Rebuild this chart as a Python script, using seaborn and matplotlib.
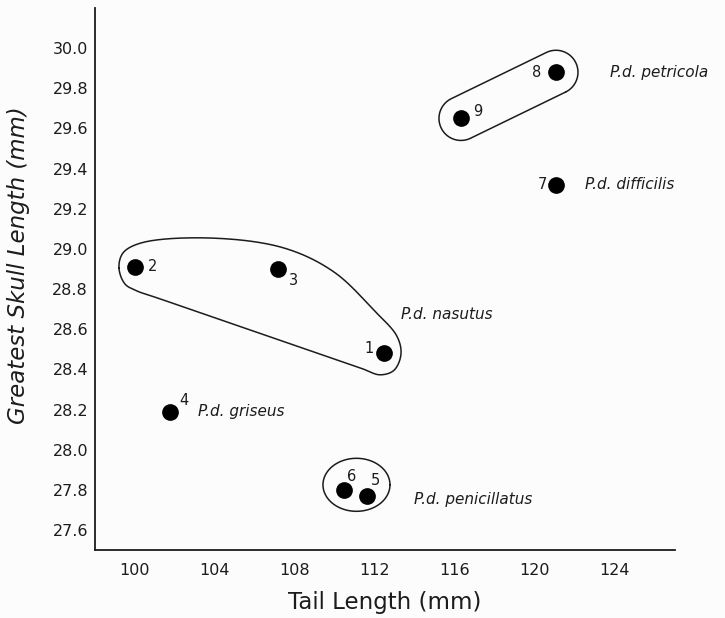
import numpy as np
import pandas as pd
import matplotlib
matplotlib.use('Agg')
import matplotlib.pyplot as plt
from matplotlib.ticker import FormatStrFormatter
import seaborn as sns

# Specimen values
specimen = [1, 2, 3, 4, 5, 6, 7, 8, 9]
tail_length = [112.45, 100.0, 107.15, 101.75, 111.6, 110.45, 121.05, 121.05, 116.3]
skull_length = [28.48, 28.91, 28.90, 28.19, 27.77, 27.80, 29.32, 29.88, 29.65]
subspecies = ['nasutus', 'nasutus', 'nasutus', 'griseus', 'penicillatus',
              'penicillatus', 'difficilis', 'petricola', 'petricola']

x_ticks = [100, 104, 108, 112, 116, 120, 124]
y_ticks = [27.6, 27.8, 28.0, 28.2, 28.4, 28.6, 28.8, 29.0, 29.2, 29.4, 29.6, 29.8, 30.0]

df = pd.DataFrame({'specimen': specimen, 'tail': tail_length,
                   'skull': skull_length, 'subspecies': subspecies})

# ===============================
# Style
# ===============================
sns.set_theme(style='white')
plt.rcParams['font.family'] = ['DejaVu Sans']
ink = '#1c1c1c'
bg = '#fcfcfc'

fig = plt.figure(figsize=(7.25, 6.18), dpi=100, facecolor=bg)
ax = fig.add_axes([0.131, 0.110, 0.800, 0.877])
ax.set_facecolor(bg)

sns.scatterplot(data=df, x='tail', y='skull', color='black', s=145,
                linewidth=0, legend=False, ax=ax, zorder=3)

ax.set_xlim(98, 127)
ax.set_ylim(27.5, 30.2)
sns.despine(ax=ax)
for side in ['left', 'bottom']:
    ax.spines[side].set_color(ink)
    ax.spines[side].set_linewidth(1.3)

ax.set_xticks(x_ticks)
ax.set_xticks([t + 2 for t in x_ticks[:-1]], minor=True)
ax.set_yticks(y_ticks)
ax.yaxis.set_major_formatter(FormatStrFormatter('%.1f'))
ax.tick_params(axis='both', which='both', direction='in', length=8,
               width=1.1, color=ink, labelcolor=ink, labelsize=11.5)
ax.tick_params(axis='x', pad=9)
ax.tick_params(axis='y', pad=5)

ax.set_xlabel('Tail Length (mm)', fontsize=16.5, color=ink, labelpad=10)
ax.set_ylabel('Greatest Skull Length (mm)', fontsize=16.5, color=ink, style='italic')
ax.yaxis.set_label_coords(-0.112, 0.526)

# ===============================
# Specimen numbers and subspecies names
# ===============================
num_offsets = {1: (-10.5, 3.5), 2: (13, 0), 3: (11.5, -8), 4: (10, 8),
               5: (5.8, 10.8), 6: (5.8, 9.4), 7: (-10, 0), 8: (-13.7, 0), 9: (12.2, 5)}
for _, row in df.iterrows():
    ax.annotate(str(row['specimen']), (row['tail'], row['skull']),
                xytext=num_offsets[row['specimen']], textcoords='offset points',
                ha='center', va='center', fontsize=10.5, color=ink)

name_anchor = {'petricola': (8, 39, 0), 'difficilis': (7, 21, 0),
               'nasutus': (1, 12, 28), 'griseus': (4, 20, 0),
               'penicillatus': (5, 33.5, -2.4)}
for name, (spec, dx, dy) in name_anchor.items():
    r = df[df['specimen'] == spec].iloc[0]
    ax.annotate('P.d. ' + name, (r['tail'], r['skull']), xytext=(dx, dy),
                textcoords='offset points', ha='left', va='center',
                fontsize=11, style='italic', color=ink)

# ===============================
# Group outlines (built in pixel space around the points)
# ===============================
px = {s: p for s, p in zip(specimen, ax.transData.transform(df[['tail', 'skull']].values))}


def to_data(pts):
    return ax.transData.inverted().transform(pts)


def smooth_closed(pts, n=20, alpha=0.5):
    # centripetal Catmull-Rom through the anchors, closed loop
    pts = np.asarray(pts, float)
    m = len(pts)
    out = []
    for i in range(m):
        p0, p1, p2, p3 = pts[i - 1], pts[i], pts[(i + 1) % m], pts[(i + 2) % m]
        t0 = 0.0
        t1 = t0 + np.linalg.norm(p1 - p0) ** alpha
        t2 = t1 + np.linalg.norm(p2 - p1) ** alpha
        t3 = t2 + np.linalg.norm(p3 - p2) ** alpha
        t = np.linspace(t1, t2, n, endpoint=False)[:, None]
        a1 = (t1 - t) / (t1 - t0) * p0 + (t - t0) / (t1 - t0) * p1
        a2 = (t2 - t) / (t2 - t1) * p1 + (t - t1) / (t2 - t1) * p2
        a3 = (t3 - t) / (t3 - t2) * p2 + (t - t2) / (t3 - t2) * p3
        b1 = (t2 - t) / (t2 - t0) * a1 + (t - t0) / (t2 - t0) * a2
        b2 = (t3 - t) / (t3 - t1) * a2 + (t - t1) / (t3 - t1) * a3
        out.append((t2 - t) / (t2 - t1) * b1 + (t - t1) / (t2 - t1) * b2)
    out = np.vstack(out)
    return np.vstack([out, out[:1]])


def capsule(p, q, r, n=40):
    ang = np.arctan2(q[1] - p[1], q[0] - p[0])
    a_q = np.linspace(ang - np.pi / 2, ang + np.pi / 2, n)
    a_p = np.linspace(ang + np.pi / 2, ang + 3 * np.pi / 2, n)
    pts = np.vstack([q + r * np.column_stack([np.cos(a_q), np.sin(a_q)]),
                     p + r * np.column_stack([np.cos(a_p), np.sin(a_p)])])
    return np.vstack([pts, pts[:1]])


# nasutus: crescent, offsets in pixels (y down) from member points
nasutus_shape = [(2, -16, 1), (2, -12, -14), (2, 6, -24), (2, 74, -29),
                 (3, 6, -21), (3, 56, 3), (1, -10, -43), (1, 13, -17),
                 (1, 17, 1), (1, 10, 17), (1, -4, 21.5), (1, -22, 15.3),
                 (1, -80, -4.7), (1, -160, -32.2), (2, 24, 31.5), (2, 2, 24),
                 (2, -10, 17)]
anchors = [px[s] + np.array([dx, -dy]) for s, dx, dy in nasutus_shape]
outline = to_data(smooth_closed(anchors))
ax.plot(outline[:, 0], outline[:, 1], color=ink, lw=1.1, zorder=2)

# petricola: capsule around 9 and 8
outline = to_data(capsule(px[9], px[8], 22))
ax.plot(outline[:, 0], outline[:, 1], color=ink, lw=1.1, zorder=2)

# penicillatus: oval around 6 and 5
c = (px[5] + px[6]) / 2 + np.array([1, 8])
a = np.linspace(0, 2 * np.pi, 120)
oval = np.column_stack([c[0] + 33.5 * np.cos(a), c[1] + 26.5 * np.sin(a)])
outline = to_data(oval)
ax.plot(outline[:, 0], outline[:, 1], color=ink, lw=1.1, zorder=2)

plt.savefig('out.png', dpi=100, facecolor=bg)
